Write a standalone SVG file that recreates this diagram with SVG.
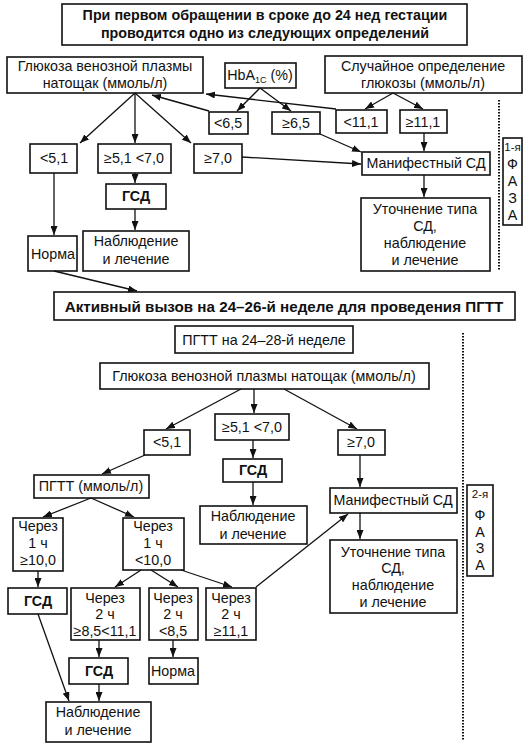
<svg xmlns="http://www.w3.org/2000/svg" width="531" height="747" viewBox="0 0 531 747">
<defs>
<marker id="ah" markerUnits="userSpaceOnUse" markerWidth="9" markerHeight="7" refX="9" refY="3.5" orient="auto"><path d="M0,0 L9,3.5 L0,7 z" fill="#111"/></marker>
<style>
rect{fill:#fff;stroke:#111;stroke-width:1.6}
text{font-family:"Liberation Sans",Arial,sans-serif;font-size:14.3px;fill:#111;text-anchor:middle}
.b{font-weight:bold}
.a{font-size:15.2px}
.s{font-size:11.5px}
#conn line{stroke:#111;stroke-width:1.3;marker-end:url(#ah)}
.dot{stroke:#111;stroke-width:2;stroke-dasharray:1.5 1.5;fill:none}
</style>
</defs>
<rect width="531" height="747" style="fill:#fff;stroke:none"/>

<g id="title"><rect x="62" y="4" width="405" height="41"/><text class="b" x="265" y="20">При первом обращении в сроке до 24 нед гестации</text><text class="b" x="265" y="38">проводится одно из следующих определений</text></g>
<g id="glucose1"><rect x="7" y="57" width="196" height="36"/><text x="105" y="71">Глюкоза венозной плазмы</text><text x="105" y="88">натощак (ммоль/л)</text></g>
<g id="hba1c"><rect x="225" y="63" width="71" height="25"/><text x="260" y="80">HbA<tspan font-size="9" dy="3">1C</tspan><tspan dy="-3"> (%)</tspan></text></g>
<g id="random"><rect x="325" y="56" width="197" height="37"/><text x="423" y="71">Случайное определение</text><text x="423" y="88">глюкозы (ммоль/л)</text></g>
<g id="lt65"><rect x="209" y="112" width="39" height="22"/><text x="228" y="128">&lt;6,5</text></g>
<g id="ge65"><rect x="272" y="112" width="48" height="22"/><text x="296" y="128">≥6,5</text></g>
<g id="lt111"><rect x="336" y="110" width="51" height="23"/><text x="361" y="127">&lt;11,1</text></g>
<g id="ge111"><rect x="400" y="110" width="47" height="23"/><text x="423" y="127">≥11,1</text></g>
<g id="lt51"><rect x="30" y="144" width="47" height="29"/><text x="54" y="163">&lt;5,1</text></g>
<g id="r5170"><rect x="98" y="144" width="73" height="29"/><text x="134" y="163">≥5,1 &lt;7,0</text></g>
<g id="ge70"><rect x="194" y="144" width="48" height="29"/><text x="218" y="163">≥7,0</text></g>
<g id="gsd1"><rect x="106" y="184" width="60" height="25"/><text class="b" x="136" y="201">ГСД</text></g>
<g id="obs1"><rect x="83" y="231" width="106" height="40"/><text x="136" y="246">Наблюдение</text><text x="136" y="264">и лечение</text></g>
<g id="norma1"><rect x="28" y="236" width="49" height="35"/><text x="53" y="259">Норма</text></g>
<g id="manif1"><rect x="362" y="152" width="128" height="23"/><text x="426" y="168">Манифестный СД</text></g>
<g id="utoch1"><rect x="361" y="198" width="129" height="73"/><text x="425" y="214">Уточнение типа</text><text x="425" y="231">СД,</text><text x="425" y="248">наблюдение</text><text x="425" y="265">и лечение</text></g>
<g id="phase1"><rect x="503" y="138" width="19" height="87"/><text class="s" x="512.5" y="151">1-я</text><text x="512.5" y="169">Ф</text><text x="512.5" y="186">А</text><text x="512.5" y="203">З</text><text x="512.5" y="220">А</text></g>
<line class="dot" x1="499" y1="100" x2="499" y2="270"/>
<g id="active"><rect x="54" y="292" width="461" height="28"/><text class="b a" x="284" y="312">Активный вызов на 24–26-й неделе для проведения ПГТТ</text></g>

<g id="pgtt24"><rect x="175" y="326" width="178" height="27"/><text x="264" y="345">ПГТТ на 24–28-й неделе</text></g>
<g id="glucose2"><rect x="100" y="363" width="329" height="26"/><text x="264" y="381">Глюкоза венозной плазмы натощак (ммоль/л)</text></g>
<g id="lt51b"><rect x="144" y="430" width="46" height="25"/><text x="167" y="447">&lt;5,1</text></g>
<g id="r5170b"><rect x="215" y="414" width="74" height="26"/><text x="252" y="432">≥5,1 &lt;7,0</text></g>
<g id="ge70b"><rect x="338" y="430" width="47" height="25"/><text x="361" y="447">≥7,0</text></g>
<g id="gsd2"><rect x="223" y="459" width="59" height="23"/><text class="b" x="253" y="475">ГСД</text></g>
<g id="obs2"><rect x="200" y="506" width="107" height="38"/><text x="253" y="521">Наблюдение</text><text x="253" y="539">и лечение</text></g>
<g id="manif2"><rect x="330" y="488" width="127" height="25"/><text x="393" y="505">Манифестный СД</text></g>
<g id="utoch2"><rect x="330" y="540" width="127" height="73"/><text x="393" y="557">Уточнение типа</text><text x="393" y="573">СД,</text><text x="393" y="590">наблюдение</text><text x="393" y="607">и лечение</text></g>
<g id="phase2"><rect x="467" y="485" width="26" height="91"/><text class="s" x="480" y="498">2-я</text><text x="480" y="520">Ф</text><text x="480" y="537">А</text><text x="480" y="553">З</text><text x="480" y="570">А</text></g>
<line class="dot" x1="463" y1="333" x2="463" y2="740"/>
<g id="pgttmm"><rect x="34" y="475" width="115" height="23"/><text x="91" y="491">ПГТТ (ммоль/л)</text></g>
<g id="c1a"><rect x="13" y="518" width="50" height="53"/><text x="38" y="531">Через</text><text x="38" y="548">1 ч</text><text x="38" y="565">≥10,0</text></g>
<g id="c1b"><rect x="123" y="518" width="61" height="52"/><text x="153" y="531">Через</text><text x="153" y="548">1 ч</text><text x="153" y="565">&lt;10,0</text></g>
<g id="gsd3"><rect x="8" y="588" width="59" height="26"/><text class="b" x="38" y="606">ГСД</text></g>
<g id="c2a"><rect x="71" y="588" width="69" height="52"/><text x="105" y="603">Через</text><text x="105" y="619">2 ч</text><text x="105" y="636">≥8,5&lt;11,1</text></g>
<g id="c2b"><rect x="149" y="588" width="49" height="52"/><text x="173" y="603">Через</text><text x="173" y="619">2 ч</text><text x="173" y="636">&lt;8,5</text></g>
<g id="c2c"><rect x="206" y="588" width="50" height="52"/><text x="231" y="603">Через</text><text x="231" y="619">2 ч</text><text x="231" y="636">≥11,1</text></g>
<g id="gsd4"><rect x="69" y="658" width="59" height="26"/><text class="b" x="99" y="676">ГСД</text></g>
<g id="norma2"><rect x="149" y="658" width="49" height="26"/><text x="173" y="676">Норма</text></g>
<g id="obs3"><rect x="46" y="702" width="105" height="40"/><text x="98" y="717">Наблюдение</text><text x="98" y="735">и лечение</text></g>

<g id="conn">
<line x1="135" y1="93" x2="80" y2="143"/>
<line x1="135" y1="93" x2="135" y2="143"/>
<line x1="135" y1="93" x2="191" y2="143"/>
<line x1="260" y1="88" x2="237" y2="111"/>
<line x1="260" y1="88" x2="291" y2="111"/>
<line x1="393" y1="93" x2="365" y2="109"/>
<line x1="393" y1="93" x2="423" y2="109"/>
<line x1="209" y1="111" x2="152" y2="95"/>
<line x1="336" y1="109" x2="206" y2="94"/>
<line x1="320" y1="134" x2="361" y2="152"/>
<line x1="424" y1="133" x2="424" y2="151"/>
<line x1="242" y1="157" x2="361" y2="164"/>
<line x1="135" y1="173" x2="135" y2="183"/>
<line x1="135" y1="209" x2="135" y2="230"/>
<line x1="54" y1="173" x2="54" y2="235"/>
<line x1="424" y1="175" x2="424" y2="197"/>
<line x1="54" y1="271" x2="137" y2="291"/>
<line x1="241" y1="389" x2="166" y2="429"/>
<line x1="254" y1="389" x2="254" y2="413"/>
<line x1="284" y1="389" x2="357" y2="429"/>
<line x1="145" y1="455" x2="102" y2="474"/>
<line x1="253" y1="440" x2="253" y2="458"/>
<line x1="253" y1="482" x2="253" y2="505"/>
<line x1="360" y1="455" x2="360" y2="487"/>
<line x1="360" y1="513" x2="360" y2="539"/>
<line x1="91" y1="498" x2="43" y2="517"/>
<line x1="91" y1="498" x2="134" y2="517"/>
<line x1="38" y1="571" x2="38" y2="587"/>
<line x1="141" y1="570" x2="115" y2="587"/>
<line x1="151" y1="570" x2="178" y2="587"/>
<line x1="181" y1="570" x2="232" y2="587"/>
<line x1="256" y1="587" x2="348" y2="514"/>
<line x1="99" y1="640" x2="99" y2="657"/>
<line x1="173" y1="640" x2="173" y2="657"/>
<line x1="99" y1="684" x2="99" y2="701"/>
<line x1="38" y1="614" x2="69" y2="701"/>
</g>
</svg>
